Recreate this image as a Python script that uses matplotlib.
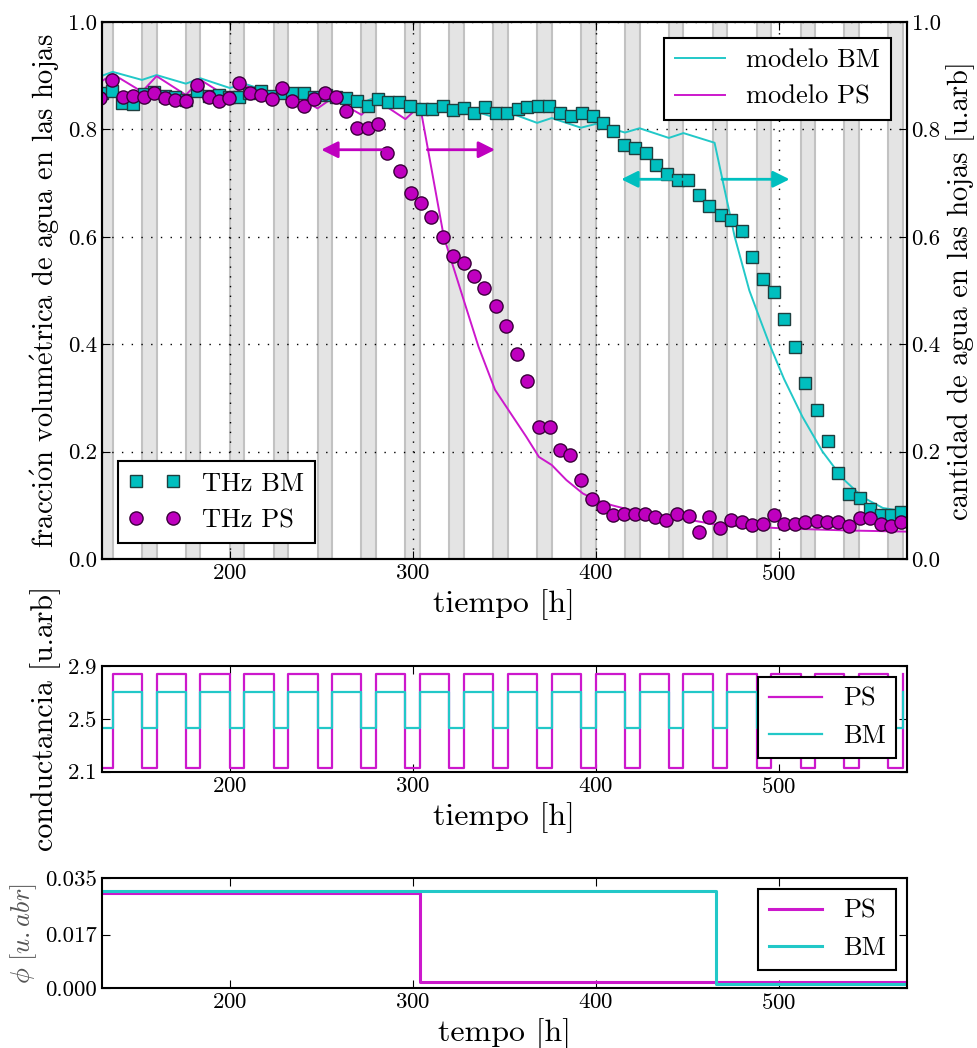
import matplotlib
matplotlib.use('Agg')
import matplotlib.pyplot as plt
import numpy as np

# --- datos THz (fraccion volumetrica de agua) ---
t_bm = [130.1, 135.6, 141.1, 147.1, 152.9, 158.4, 164.8, 170.3, 176.3, 182.1,
        188.5, 194.0, 199.5, 204.9, 210.4, 216.8, 223.0, 228.5, 234.1, 240.5,
        246.0, 252.4, 257.9, 263.7, 269.7, 275.7, 281.0, 286.5, 292.5, 298.5,
        304.9, 310.7, 316.7, 322.2, 328.1, 333.6, 339.4, 345.4, 351.4, 357.3,
        362.7, 368.7, 374.6, 380.5, 386.5, 392.5, 398.3, 403.8, 409.6, 415.3,
        421.5, 427.5, 433.2, 439.0, 444.8, 450.7, 456.3, 462.2, 468.6, 474.1,
        479.9, 485.5, 491.4, 497.3, 503.2, 508.7, 514.6, 521.1, 526.9, 532.4,
        538.3, 544.3, 549.8, 555.8, 561.6, 567.1]
thz_bm = [.868, .871, .849, .847, .865, .869, .862, .860, .855, .871,
          .862, .864, .860, .860, .867, .871, .862, .868, .867, .867,
          .861, .864, .861, .858, .852, .844, .857, .850, .850, .844,
          .837, .837, .844, .836, .839, .831, .841, .830, .830, .837,
          .841, .844, .844, .830, .825, .831, .824, .811, .796, .771,
          .765, .755, .734, .717, .706, .706, .677, .657, .641, .631,
          .611, .563, .522, .498, .446, .395, .328, .277, .220, .160,
          .121, .113, .094, .082, .082, .087]

t_ps = [129.2, 135.6, 141.6, 147.1, 152.9, 158.4, 164.8, 170.3, 176.3, 182.1,
        188.5, 194.0, 199.5, 204.9, 210.9, 216.8, 223.2, 228.6, 234.1, 240.5,
        246.0, 251.8, 257.9, 263.7, 269.7, 275.5, 281.0, 285.8, 293.0, 298.9,
        304.4, 310.2, 316.6, 322.2, 328.1, 333.6, 339.2, 345.4, 351.2, 356.9,
        362.7, 369.1, 374.8, 380.5, 386.1, 392.1, 398.0, 403.8, 409.6, 415.3,
        421.5, 427.1, 432.6, 438.5, 444.5, 450.8, 456.3, 462.2, 468.2, 474.1,
        480.1, 485.5, 491.4, 497.4, 503.2, 508.7, 514.6, 521.1, 526.6, 532.4,
        538.3, 544.3, 549.8, 555.8, 561.6, 567.1]
thz_ps = [.858, .892, .861, .862, .861, .867, .858, .855, .852, .883,
          .861, .852, .858, .887, .867, .864, .856, .877, .852, .844,
          .856, .867, .861, .834, .802, .802, .810, .755, .723, .682,
          .662, .636, .599, .565, .552, .527, .505, .471, .434, .382,
          .331, .246, .245, .203, .193, .148, .111, .097, .081, .083,
          .083, .083, .078, .073, .083, .080, .051, .079, .058, .073,
          .068, .063, .066, .081, .065, .066, .068, .071, .069, .068,
          .061, .076, .076, .065, .061, .068]

# --- modelos ---
t_mod_bm = [128, 136, 152, 160, 176, 184, 200, 208, 224, 232, 248, 256, 272, 280,
            296, 304, 320, 328, 344, 352, 368, 376, 392, 400, 416, 424, 440, 448,
            465, 476, 484, 490, 495, 503, 513, 524, 535, 546, 557, 570]
mod_bm = [.897, .907, .892, .901, .885, .895, .877, .885, .867, .875, .858, .867, .849, .860,
          .840, .848, .832, .840, .823, .832, .812, .821, .803, .810, .794, .802, .784, .793,
          .775, .600, .500, .445, .400, .335, .265, .200, .150, .115, .095, .088]

t_mod_ps = [128, 136, 152, 160, 176, 184, 200, 208, 224, 232, 248, 256, 272, 280,
            296, 304, 317, 329, 336, 345, 353, 362, 369, 376, 384, 393, 400, 409,
            417, 428, 446, 466, 502, 539, 570]
mod_ps = [.885, .903, .870, .899, .864, .892, .858, .883, .852, .870, .839, .858, .827, .855,
          .819, .844, .600, .470, .395, .315, .274, .228, .190, .175, .147, .122, .110, .100,
          .093, .086, .076, .064, .057, .053, .051]

# --- periodos de noche (inicio) ---
noche_inicio = [128, 152, 176, 200, 224, 248, 272, 296, 320, 344, 368, 392,
                416, 440, 464, 488, 512, 536, 560]
noche_dur = 8

# --- conductancia ---
g_ps = {'dia': 2.84, 'noche': 2.125}
g_bm = {'dia': 2.70, 'noche': 2.43}

# --- phi ---
t_phi = [128, 304, 466, 570]
phi_ps = [0.0302, 0.0018, 0.0018, 0.0018]
phi_bm = [0.0309, 0.0309, 0.0012, 0.0012]

# flechas (inicio, fin, altura)
flechas_ps = [(287, 250, 0.762), (308, 345, 0.762)]
flechas_bm = [(451, 414, 0.707), (469, 506, 0.707)]

col_c = '#00bfbf'
col_m = '#bf00bf'
lin_c = '#22c8c8'
lin_m = '#cc18cc'

plt.rcParams['font.family'] = ['cmr10', 'DejaVu Serif']
plt.rcParams['mathtext.fontset'] = 'cm'
plt.rcParams['axes.formatter.use_mathtext'] = True
plt.rcParams['axes.linewidth'] = 1.5
plt.rcParams['xtick.direction'] = 'in'
plt.rcParams['ytick.direction'] = 'in'
plt.rcParams['xtick.major.size'] = 6
plt.rcParams['ytick.major.size'] = 6

fig = plt.figure(figsize=(9.77, 10.48), dpi=100)
xlim = (130, 570)
ts = 16.5   # tamaño ticks
ls = 20.5   # tamaño etiquetas y
xs = 23     # tamaño etiquetas x
lg = 19     # tamaño leyendas

# 1. panel superior
ax = fig.add_axes([0.1041, 0.4666, 0.8239, 0.5125])
for n in noche_inicio:
    ax.axvspan(n, n + noche_dur, facecolor='#e4e4e4', edgecolor='#c2c2c2', lw=1.5, zorder=0)
ax.plot(t_mod_bm, mod_bm, '-', color=lin_c, lw=1.4, label='modelo BM', zorder=2)
ax.plot(t_mod_ps, mod_ps, '-', color=lin_m, lw=1.4, label='modelo PS', zorder=2)
sq, = ax.plot(t_bm, thz_bm, 's', color=col_c, mec='#1f3f3f', mew=1.0, ms=8.5, zorder=3)
ci, = ax.plot(t_ps, thz_ps, 'o', color=col_m, mec='#3a003a', mew=1.0, ms=9.5, zorder=3)
for x0, x1, y in flechas_ps:
    ax.annotate('', xy=(x1, y), xytext=(x0, y),
                arrowprops=dict(arrowstyle='-|>', color=col_m, lw=2, mutation_scale=25,
                                shrinkA=0, shrinkB=0), zorder=4)
for x0, x1, y in flechas_bm:
    ax.annotate('', xy=(x1, y), xytext=(x0, y),
                arrowprops=dict(arrowstyle='-|>', color=col_c, lw=2, mutation_scale=25,
                                shrinkA=0, shrinkB=0), zorder=4)
ax.set_xlim(xlim)
ax.set_ylim(0, 1)
ax.set_xticks([200, 300, 400, 500])
ax.set_yticks(np.arange(0, 1.01, 0.2))
ax.yaxis.set_major_formatter(plt.FormatStrFormatter('%.1f'))
ax.grid(True, ls=(0, (1, 6)), color='k', lw=1)
ax.set_axisbelow(True)
ax.tick_params(labelsize=ts, top=True)
ax.set_xlabel('tiempo [h]', fontsize=xs)
ax.set_ylabel(r'fracci$\mathrm{\acute{o}}$n volum$\mathrm{\acute{e}}$trica de agua en las hojas',
              fontsize=ls)
leg1 = ax.legend(loc='upper right', fontsize=lg, fancybox=False, framealpha=1,
                 edgecolor='k', handlelength=1.9, borderaxespad=0.6)
leg1.get_frame().set_linewidth(1.5)
ax.add_artist(leg1)
leg2 = ax.legend([sq, ci], ['THz BM', 'THz PS'], loc='lower left', numpoints=2,
                 fontsize=lg, fancybox=False, framealpha=1, edgecolor='k',
                 borderaxespad=0.6)
leg2.get_frame().set_linewidth(1.5)

ax2 = ax.twinx()
ax2.set_ylim(0, 1)
ax2.set_yticks(np.arange(0, 1.01, 0.2))
ax2.yaxis.set_major_formatter(plt.FormatStrFormatter('%.1f'))
ax2.tick_params(labelsize=ts)
ax2.set_ylabel('cantidad de agua en las hojas [u.arb]', fontsize=ls)

# 2. conductancia
bx = fig.add_axes([0.1041, 0.2637, 0.8239, 0.1008])
tt, gp, gb = [], [], []
for n in noche_inicio:
    tt += [n, n + noche_dur]
    gp += [g_ps['noche'], g_ps['dia']]
    gb += [g_bm['noche'], g_bm['dia']]
bx.step(tt, gp, where='post', color=lin_m, lw=1.6, label='PS')
bx.step(tt, gb, where='post', color=lin_c, lw=1.6, label='BM')
bx.set_xlim(xlim)
bx.set_ylim(2.1, 2.9)
bx.set_yticks([2.1, 2.5, 2.9])
bx.set_xticks([200, 300, 400, 500])
bx.tick_params(labelsize=ts, top=True, right=True)
bx.set_xlabel('tiempo [h]', fontsize=xs)
bx.set_ylabel('conductancia [u.arb]', fontsize=21.5)
leg3 = bx.legend(loc='upper right', fontsize=lg, fancybox=False, framealpha=1,
                 edgecolor='k', borderaxespad=0.4)
leg3.get_frame().set_linewidth(1.5)

# 3. phi
cx = fig.add_axes([0.1041, 0.0573, 0.8239, 0.1049])
cx.step(t_phi, phi_ps, where='post', color=lin_m, lw=2.2, label='PS')
cx.step(t_phi, phi_bm, where='post', color=lin_c, lw=2.2, label='BM')
cx.set_xlim(xlim)
cx.set_ylim(0, 0.035)
cx.set_yticks([0.0, 0.017, 0.035])
cx.yaxis.set_major_formatter(plt.FormatStrFormatter('%.3f'))
cx.set_xticks([200, 300, 400, 500])
cx.tick_params(labelsize=ts, top=True, right=True)
cx.set_xlabel('tempo [h]', fontsize=xs)
cx.set_ylabel(r'$\phi\ [u.abr]$', fontsize=19, color='#555555')
leg4 = cx.legend(loc='upper right', fontsize=lg, fancybox=False, framealpha=1,
                 edgecolor='k', borderaxespad=0.4)
leg4.get_frame().set_linewidth(1.5)

fig.savefig('out.png', dpi=100)
